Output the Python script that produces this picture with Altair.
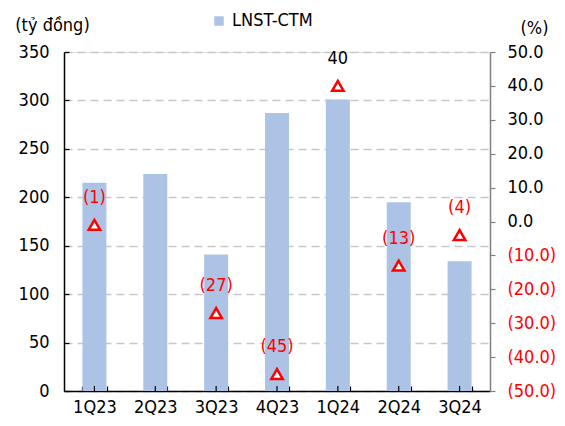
import altair as alt
import pandas as pd

quarters = ["1Q23", "2Q23", "3Q23", "4Q23", "1Q24", "2Q24", "3Q24"]
profit = [215, 224, 141, 287, 301, 195, 134]
growth = [-1, None, -27, -45, 40, -13, -4]
series_name = "LNST-CTM"

BAR = "#adc3e6"
FONT = "'DejaVu Sans Condensed', 'DejaVu Sans'"
FS = 18


def fmt(v):
    if v is None:
        return ""
    return f"({abs(v):.0f})" if v < 0 else f"{v:.0f}"


df = pd.DataFrame({
    "quarter": quarters,
    "profit": profit,
    "growth": growth,
    "series": series_name,
})
df["label"] = [fmt(v) for v in growth]

base = alt.Chart(df)

x_enc = alt.X(
    "quarter:N", sort=quarters, title=None,
    scale=alt.Scale(paddingInner=0.6, paddingOuter=0.3),
    axis=alt.Axis(
        labelAngle=0, labelFont=FONT, labelFontSize=FS, labelColor="black",
        labelPadding=12, domainColor="black", domainWidth=1.5,
        tickColor="black", tickWidth=1.2, tickBand="extent",
        tickSize=alt.ExprRef(expr="-5"), grid=False,
    ),
)

bars = base.mark_bar(size=24).encode(
    x=x_enc,
    y=alt.Y(
        "profit:Q",
        scale=alt.Scale(domain=[0, 350], nice=False),
        axis=alt.Axis(
            values=list(range(0, 351, 50)), title="(tỷ đồng)", titleAngle=0,
            titleX=-12, titleY=-27, titleAlign="center", titleBaseline="middle",
            titleFont=FONT, titleFontSize=FS, titleFontWeight="normal", titleColor="black",
            labelFont=FONT, labelFontSize=FS, labelColor="black", labelPadding=20,
            domainColor="black", domainWidth=1.5, tickColor="black", tickWidth=1.2,
            tickSize=alt.ExprRef(expr="-5"),
            grid=True, gridDash=[8, 5], gridColor="#c8c8c8", gridWidth=1.5,
        ),
    ),
    color=alt.Color(
        "series:N",
        scale=alt.Scale(range=[BAR]),
        legend=alt.Legend(
            orient="none", legendX=146, legendY=-40, title=None,
            symbolType="square", symbolSize=90, symbolStrokeWidth=0,
            labelOffset=4, padding=0,
            labelFont=FONT, labelFontSize=FS, labelColor="black",
        ),
    ),
)

center_ticks = base.mark_rule(color="black", strokeWidth=1.2).encode(
    x=alt.X("quarter:N", sort=quarters),
    y=alt.value(339),
    y2=alt.value(334),
)

y_right = alt.Y(
    "growth:Q",
    scale=alt.Scale(domain=[-50, 50], nice=False),
    axis=alt.Axis(
        orient="right", values=list(range(-50, 51, 10)), title="(%)", titleAngle=0,
        titleX=44, titleY=-24, titleAlign="center", titleBaseline="middle",
        titleFont=FONT, titleFontSize=FS, titleFontWeight="normal", titleColor="black",
        labelFont=FONT, labelFontSize=FS, labelPadding=12,
        labelExpr="datum.value < 0 ? '(' + format(-datum.value, '.1f') + ')' : format(datum.value, '.1f')",
        labelColor={"condition": {"test": "datum.value < 0", "value": "red"}, "value": "black"},
        domainColor="#808080", domainWidth=1.5, tickColor="#808080", tickWidth=1.2,
        tickSize=5, grid=False,
    ),
)

points = base.transform_filter("isValid(datum.growth)").mark_point(
    shape="triangle-up", filled=True, fill="white", stroke="red",
    strokeWidth=2.5, size=130, opacity=1,
).encode(x=alt.X("quarter:N", sort=quarters), y=y_right)

labels = base.transform_filter("isValid(datum.growth)").mark_text(
    dy=-27, font=FONT, fontSize=FS,
).encode(
    x=alt.X("quarter:N", sort=quarters),
    y=y_right,
    text="label:N",
    color=alt.condition("datum.growth < 0", alt.value("red"), alt.value("black")),
)

chart = alt.layer(
    bars, center_ticks, alt.layer(points, labels)
).resolve_scale(y="independent").properties(
    width=426, height=339,
    autosize=alt.AutoSizeParams(type="none"),
    padding={"left": 56, "top": 44, "right": 67, "bottom": 27},
).configure_view(stroke=None).configure(background="white")

chart.save("out.html", embed_options={"renderer": "svg", "actions": False})
